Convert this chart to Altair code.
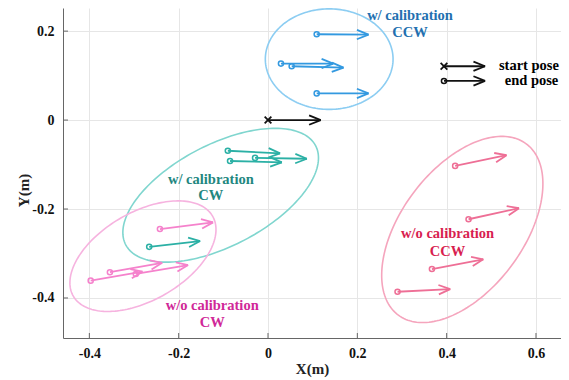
import altair as alt
import numpy as np
import pandas as pd

# ---- end poses: start point (circle) and arrow tip, per group ----
blue_x0 = [0.109, 0.029, 0.053, 0.109]
blue_y0 = [0.193, 0.127, 0.121, 0.060]
blue_x1 = [0.225, 0.146, 0.169, 0.225]
blue_y1 = [0.192, 0.127, 0.118, 0.060]

teal_x0 = [-0.090, -0.085, -0.029, -0.266]
teal_y0 = [-0.069, -0.092, -0.085, -0.285]
teal_x1 = [0.027, 0.031, 0.087, -0.152]
teal_y1 = [-0.075, -0.095, -0.087, -0.272]

pink_x0 = [-0.397, -0.354, -0.296, -0.242]
pink_y0 = [-0.361, -0.342, -0.346, -0.245]
pink_x1 = [-0.281, -0.237, -0.179, -0.123]
pink_y1 = [-0.341, -0.321, -0.326, -0.230]

red_x0 = [0.419, 0.449, 0.367, 0.290]
red_y0 = [-0.103, -0.223, -0.335, -0.386]
red_x1 = [0.534, 0.562, 0.482, 0.408]
red_y1 = [-0.079, -0.198, -0.313, -0.380]

# start pose (black) and legend samples
start_x0 = [0.0]
start_y0 = [0.0]
start_x1 = [0.118]
start_y1 = [0.0]

leg_x0 = [0.394, 0.394]
leg_y0 = [0.121, 0.088]
leg_x1 = [0.486, 0.486]
leg_y1 = [0.121, 0.088]
leg_text = ["start pose", "end pose"]
leg_tx = [0.517, 0.650]
leg_align = ["left", "right"]

# ---- ellipses: center x, center y, semi-major, semi-minor, tilt (deg) ----
ell_group = ["blue", "teal", "pink", "red"]
ell_cx = [0.137, -0.106, -0.280, 0.435]
ell_cy = [0.137, -0.169, -0.306, -0.246]
ell_a = [0.143, 0.240, 0.180, 0.240]
ell_b = [0.113, 0.114, 0.099, 0.137]
ell_ang = [0.0, 27.7, 30.0, 53.4]

# ---- labels ----
lab_group = ["blue", "blue", "teal", "teal", "red", "red", "pink", "pink"]
lab_text = ["w/ calibration", "CCW", "w/ calibration", "CW",
            "w/o calibration", "CCW", "w/o calibration", "CW"]
lab_x = [0.318, 0.318, -0.128, -0.128, 0.402, 0.402, -0.125, -0.125]
lab_y = [0.233, 0.196, -0.135, -0.171, -0.256, -0.296, -0.418, -0.456]

x_ticks = [-0.4, -0.2, 0.0, 0.2, 0.4, 0.6]
y_ticks = [-0.4, -0.2, 0.0, 0.2]

groups = ["blue", "teal", "pink", "red", "black"]
arrow_colors = ["#3399e0", "#2bb0a5", "#f582cc", "#ee6f96", "#111111"]
ellipse_colors = ["#8ccdf2", "#80d6cf", "#f6b3df", "#f5a5bd", "#111111"]
text_colors = ["#2370b0", "#23877f", "#d02898", "#d81e50", "#000000"]
acol = dict(zip(groups, arrow_colors))
ecol = dict(zip(groups, ellipse_colors))
tcol = dict(zip(groups, text_colors))

FONT = "Liberation Serif, Times New Roman, serif"
HEAD_LEN = 0.028
HEAD_ANG = np.radians(22)

pose_rows, seg_rows = [], []


def add_poses(group, x0, y0, x1, y1, marker):
    for a, b, c, d in zip(x0, y0, x1, y1):
        pose_rows.append(dict(x=a, y=b, col=acol[group], marker=marker))
        seg_rows.append(dict(x=a, y=b, x2=c, y2=d, col=acol[group]))
        dx, dy = c - a, d - b
        L = np.hypot(dx, dy)
        ux, uy = dx / L, dy / L
        for s in (1, -1):
            ca, sa = np.cos(s * HEAD_ANG), np.sin(s * HEAD_ANG)
            rx, ry = ux * ca - uy * sa, ux * sa + uy * ca
            seg_rows.append(dict(x=c, y=d, x2=c - HEAD_LEN * rx,
                                 y2=d - HEAD_LEN * ry, col=acol[group]))


add_poses("blue", blue_x0, blue_y0, blue_x1, blue_y1, "o")
add_poses("teal", teal_x0, teal_y0, teal_x1, teal_y1, "o")
add_poses("pink", pink_x0, pink_y0, pink_x1, pink_y1, "o")
add_poses("red", red_x0, red_y0, red_x1, red_y1, "o")
add_poses("black", start_x0, start_y0, start_x1, start_y1, "x")
add_poses("black", leg_x0[:1], leg_y0[:1], leg_x1[:1], leg_y1[:1], "x")
add_poses("black", leg_x0[1:], leg_y0[1:], leg_x1[1:], leg_y1[1:], "o")

poses = pd.DataFrame(pose_rows)
segs = pd.DataFrame(seg_rows)

ell_rows = []
t = np.linspace(0, 2 * np.pi, 181)
for g, cx, cy, a, b, ang in zip(ell_group, ell_cx, ell_cy, ell_a, ell_b, ell_ang):
    th = np.radians(ang)
    ex = cx + a * np.cos(t) * np.cos(th) - b * np.sin(t) * np.sin(th)
    ey = cy + a * np.cos(t) * np.sin(th) + b * np.sin(t) * np.cos(th)
    for i, (u, v) in enumerate(zip(ex, ey)):
        ell_rows.append(dict(x=u, y=v, order=i, group=g, col=ecol[g]))
ells = pd.DataFrame(ell_rows)

labels = pd.DataFrame(dict(x=lab_x, y=lab_y, text=lab_text,
                           col=[tcol[g] for g in lab_group]))
legend_txt = pd.DataFrame(dict(x=leg_tx, y=leg_y0, text=leg_text, align=leg_align))

xs = alt.Scale(domain=[-0.459, 0.656], nice=False, zero=False)
ys = alt.Scale(domain=[-0.49, 0.252], nice=False, zero=False)

lab_expr = "replace(format(datum.value, '.1~f'), '\u2212', '-')"
xaxis = alt.Axis(values=x_ticks, title="X(m)", labelExpr=lab_expr, grid=True)
yaxis = alt.Axis(values=y_ticks, title="Y(m)", labelExpr=lab_expr, grid=True)

X = alt.X("x:Q", scale=xs, axis=xaxis)
Y = alt.Y("y:Q", scale=ys, axis=yaxis)
C = alt.Color("col:N", scale=None, legend=None)

ell_layer = alt.Chart(ells).mark_line(strokeWidth=1.6).encode(
    x=X, y=Y, order="order:Q", detail="group:N", color=C,
)

seg_layer = alt.Chart(segs).mark_rule(strokeWidth=1.8).encode(
    x=X, y=Y, x2="x2:Q", y2="y2:Q", color=C,
)

circ_layer = alt.Chart(poses).transform_filter("datum.marker == 'o'").mark_point(
    shape="circle", filled=False, size=26, strokeWidth=1.5, opacity=1
).encode(x=X, y=Y, color=C)

cross_layer = alt.Chart(poses).transform_filter("datum.marker == 'x'").mark_point(
    shape="M-1,-1L1,1M1,-1L-1,1", filled=False, size=45, strokeWidth=1.8,
    color="#111111", opacity=1
).encode(x=X, y=Y)

text_layer = alt.Chart(labels).mark_text(
    font=FONT, fontWeight="bold", fontSize=14.5, baseline="middle"
).encode(x=X, y=Y, text="text:N", color=C)

leg_left = alt.Chart(legend_txt).transform_filter("datum.align == 'left'").mark_text(
    font=FONT, fontWeight="bold", fontSize=14.5, baseline="middle",
    color="#000000", align="left"
).encode(x=X, y=Y, text="text:N")
leg_right = alt.Chart(legend_txt).transform_filter("datum.align == 'right'").mark_text(
    font=FONT, fontWeight="bold", fontSize=14.5, baseline="middle",
    color="#000000", align="right"
).encode(x=X, y=Y, text="text:N")

xt = pd.DataFrame(dict(v=x_ticks))
yt = pd.DataFrame(dict(v=y_ticks))
xtick_layer = alt.Chart(xt).mark_rule(color="#666666", strokeWidth=1).encode(
    x=alt.X("v:Q", scale=xs, axis=xaxis), y=alt.value(330), y2=alt.value(325)
)
ytick_layer = alt.Chart(yt).mark_rule(color="#666666", strokeWidth=1).encode(
    y=alt.Y("v:Q", scale=ys, axis=yaxis), x=alt.value(0), x2=alt.value(5)
)

chart = alt.layer(
    ell_layer, seg_layer, circ_layer, cross_layer, text_layer, leg_left, leg_right,
    xtick_layer, ytick_layer
).properties(
    width=498, height=330,
    autosize=alt.AutoSizeParams(type="none"),
    padding={"left": 55, "top": 0, "right": 0, "bottom": 42},
    background="white",
).configure_view(stroke=None).configure_axis(
    labelFont=FONT, labelFontWeight="bold", labelFontSize=14,
    labelColor="#111111", titleFont=FONT, titleFontWeight="bold",
    titleFontSize=15, titleColor="#222222", domainColor="#666666",
    gridColor="#e6e6e6", ticks=False,
).configure_axisX(labelPadding=8, titlePadding=1).configure_axisY(
    labelPadding=9, titleX=-32, titleY=182
)

chart.save("out.html", embed_options={"renderer": "svg", "actions": False})
